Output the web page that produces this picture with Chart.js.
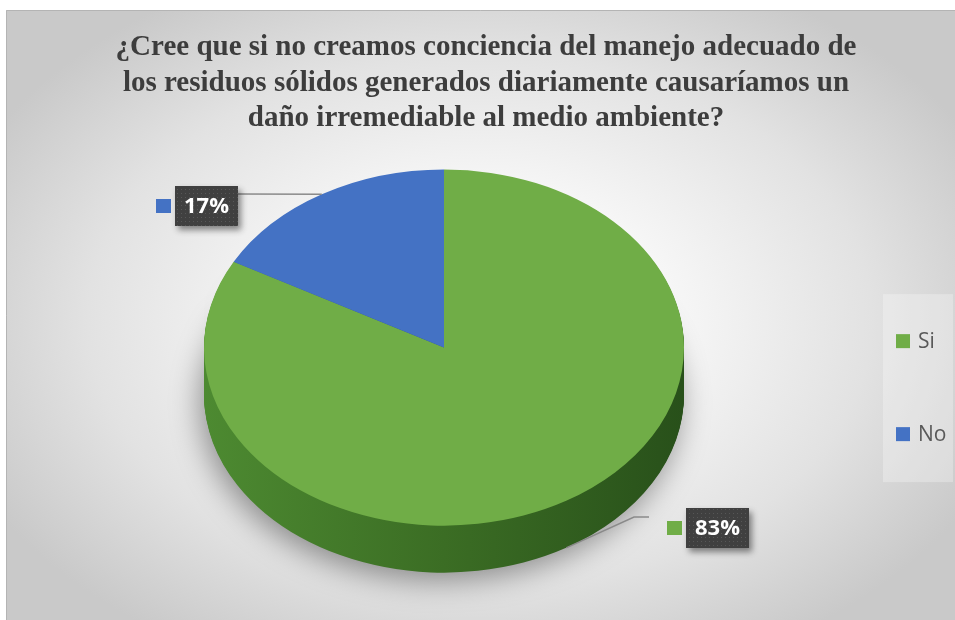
<!DOCTYPE html>
<html>
<head>
<meta charset="utf-8">
<script src="https://cdn.jsdelivr.net/npm/chart.js@4.4.1/dist/chart.umd.min.js"></script>
<style>
  html, body { margin: 0; padding: 0; background: #ffffff; }
  #wrap { width: 955px; height: 620px; }
</style>
</head>
<body>
<div id="wrap"><canvas id="c" width="955" height="620"></canvas></div>
<script>
// Survey answers and their shares (percent)
const categories = ['Si', 'No'];
const percentages = [83, 17];
const sliceColors = ['#70ad47', '#4472c4'];
const sideColors = [
  ['#4d8a31', '#3b6d24', '#28501a'],
  ['#3a61a8', '#2d5089', '#223c68']
];
const titleLines = [
  '¿Cree que si no creamos conciencia del manejo adecuado de',
  'los residuos sólidos generados diariamente causaríamos un',
  'daño irremediable al medio ambiente?'
];

// Framed panel with a soft radial fill
const backdrop = {
  id: 'backdrop',
  beforeDraw(chart) {
    const { ctx, width, height } = chart;
    ctx.save();
    ctx.fillStyle = '#ffffff';
    ctx.fillRect(0, 0, width, height);
    const fx = 6, fy = 10;
    ctx.save();
    ctx.translate(480, 320);
    ctx.scale(1, 0.68);
    const g = ctx.createRadialGradient(0, 0, 0, 0, 0, 560);
    g.addColorStop(0, '#ffffff');
    g.addColorStop(0.3, '#f9f9f9');
    g.addColorStop(0.7, '#e2e2e2');
    g.addColorStop(1, '#c9c9c9');
    ctx.fillStyle = g;
    ctx.fillRect(fx - 480, (fy - 320) / 0.68, width, (height - fy) / 0.68 + 10);
    ctx.restore();
    ctx.strokeStyle = '#b4b4b4';
    ctx.lineWidth = 1;
    ctx.beginPath();
    ctx.moveTo(fx + 0.5, height);
    ctx.lineTo(fx + 0.5, fy + 0.5);
    ctx.lineTo(width, fy + 0.5);
    ctx.stroke();
    ctx.restore();
  }
};

// Tilted pie with an extruded rim, drawn from the doughnut controller's arc elements
const pie3d = {
  id: 'pie3d',
  beforeDatasetsDraw(chart, args, opts) {
    const ctx = chart.ctx;
    const arcs = chart.getDatasetMeta(0).data;
    if (!arcs.length) return;
    const cx = arcs[0].x, cy = arcs[0].y, r = arcs[0].outerRadius;
    const tilt = opts.tilt, depth = opts.depth;
    const tiltAround = () => {
      ctx.translate(cx, cy);
      ctx.scale(1, tilt);
      ctx.translate(-cx, -cy);
    };
    const sideFills = sideColors.map((stops) => {
      const g = ctx.createLinearGradient(cx - r, 0, cx + r, 0);
      g.addColorStop(0, stops[0]);
      g.addColorStop(0.5, stops[1]);
      g.addColorStop(1, stops[2]);
      return g;
    });
    for (let d = depth; d >= 1; d--) {
      ctx.save();
      ctx.translate(0, d);
      tiltAround();
      if (d === depth) {
        ctx.shadowColor = 'rgba(0,0,0,0.4)';
        ctx.shadowBlur = 30;
        ctx.shadowOffsetX = -4;
        ctx.shadowOffsetY = 8;
      }
      arcs.forEach((arc, i) => {
        const own = arc.options;
        arc.options = Object.assign({}, own, { backgroundColor: sideFills[i], borderWidth: 0 });
        arc.draw(ctx);
        arc.options = own;
      });
      ctx.restore();
    }
    ctx.save();
    tiltAround();
    arcs.forEach((arc) => arc.draw(ctx));
    ctx.restore();
    return false;
  }
};

// Value callouts: dark boxes with a colour key and a leader line to the slice
const callouts = {
  id: 'callouts',
  afterDraw(chart, args, opts) {
    const ctx = chart.ctx;
    const arcs = chart.getDatasetMeta(0).data;
    const tilt = chart.options.plugins.pie3d.tilt;
    const depth = chart.options.plugins.pie3d.depth;
    const values = chart.data.datasets[0].data;
    const colors = chart.data.datasets[0].backgroundColor;

    // faint dotted texture for the label boxes
    const tile = document.createElement('canvas');
    tile.width = 4; tile.height = 4;
    const tc = tile.getContext('2d');
    tc.fillStyle = '#404040';
    tc.fillRect(0, 0, 4, 4);
    tc.fillStyle = '#575757';
    tc.fillRect(1, 1, 1, 1);
    const texture = ctx.createPattern(tile, 'repeat');

    arcs.forEach((arc, i) => {
      const lay = opts.layout[i];
      const mid = (arc.startAngle + arc.endAngle) / 2;
      const r = arc.outerRadius;
      const ax = arc.x + r * Math.cos(mid);
      let ay = arc.y + r * Math.sin(mid) * tilt;
      if (Math.sin(mid) > 0) ay += depth;

      const text = values[i] + '%';
      ctx.save();
      ctx.font = 'bold 22px "Open Sans", "Noto Sans", sans-serif';
      const tw = ctx.measureText(text).width;
      const bw = Math.round(tw + 18), bh = 40;
      const bx = Math.round(ax + lay.dx - bw / 2);
      const by = Math.round(ay + lay.dy - bh / 2);

      // leader line
      ctx.strokeStyle = '#8a8a8a';
      ctx.lineWidth = 1.5;
      ctx.beginPath();
      ctx.moveTo(ax, ay);
      if (lay.leader === 'elbow') {
        ctx.lineTo(bx - 52, by + 9);
        ctx.lineTo(bx - 37, by + 9);
      } else {
        ctx.lineTo(bx + bw, by + 8);
      }
      ctx.stroke();

      // box with drop shadow
      ctx.save();
      ctx.shadowColor = 'rgba(0,0,0,0.45)';
      ctx.shadowBlur = 6;
      ctx.shadowOffsetX = 3;
      ctx.shadowOffsetY = 4;
      ctx.fillStyle = texture;
      ctx.fillRect(bx, by, bw, bh);
      ctx.restore();

      // colour key
      ctx.fillStyle = colors[i];
      ctx.fillRect(bx - 19, by + bh / 2 - 7, 15, 14);

      ctx.fillStyle = '#ffffff';
      ctx.textAlign = 'center';
      ctx.textBaseline = 'middle';
      ctx.fillText(text, bx + bw / 2, by + bh / 2 + 1);
      ctx.restore();
    });
  }
};

// Legend panel that reserves its own strip on the right side of the layout
const sideLegend = {
  id: 'sideLegend',
  beforeInit(chart) {
    const box = {
      position: 'right',
      weight: 100,
      fullSize: false,
      options: { stackWeight: 1 },
      left: 0, top: 0, right: 0, bottom: 0, width: 0, height: 0,
      isHorizontal() { return false; },
      update(maxWidth, maxHeight) {
        this.width = 84;
        this.height = maxHeight;
      },
      draw() {
        const ctx = chart.ctx;
        const labels = chart.data.labels;
        const colors = chart.data.datasets[0].backgroundColor;
        const px = this.left + 12, py = this.top + 148;
        ctx.save();
        ctx.fillStyle = 'rgba(255,255,255,0.28)';
        ctx.fillRect(px, py, 70, 188);
        ctx.font = '21px "Open Sans", "Noto Sans", sans-serif';
        ctx.textBaseline = 'middle';
        ctx.textAlign = 'left';
        labels.forEach((label, i) => {
          const rowY = py + 47 + i * 93;
          ctx.fillStyle = colors[i];
          ctx.fillRect(px + 13, rowY - 7, 14, 14);
          ctx.fillStyle = '#595959';
          ctx.fillText(label, px + 35, rowY + 1);
        });
        ctx.restore();
      }
    };
    Chart.layouts.addBox(chart, box);
  }
};

new Chart(document.getElementById('c'), {
  type: 'pie',
  data: {
    labels: categories,
    datasets: [{
      data: percentages,
      backgroundColor: sliceColors,
      borderWidth: 0,
      radius: 240,
      clip: false
    }]
  },
  options: {
    responsive: false,
    animation: false,
    events: [],
    layout: { padding: { top: 10, left: 17, right: 0, bottom: 71 } },
    plugins: {
      legend: { display: false },
      tooltip: { enabled: false },
      title: {
        display: true,
        text: titleLines,
        color: '#3d3d3d',
        font: { family: '"Liberation Serif", "Times New Roman", serif', size: 29, weight: 'bold', lineHeight: 1.22 },
        padding: { top: 20, bottom: 10 }
      },
      pie3d: { tilt: 0.742, depth: 47 },
      callouts: {
        layout: [
          { dx: 151, dy: -20, leader: 'elbow' },
          { dx: -115, dy: 12, leader: 'straight' }
        ]
      }
    }
  },
  plugins: [backdrop, pie3d, callouts, sideLegend]
});
</script>
</body>
</html>
